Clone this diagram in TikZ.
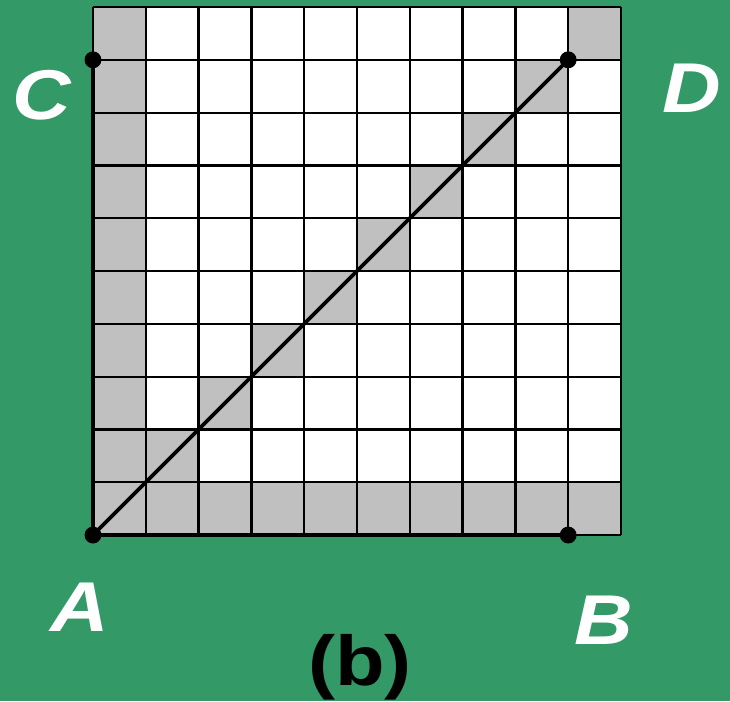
\documentclass[tikz,border=0pt]{standalone}
\usepackage{fontspec}
\setmainfont{Liberation Sans}[FakeStretch=1.15]
\definecolor{bggreen}{RGB}{51,153,102}
\definecolor{cellgrey}{RGB}{192,192,192}

\begin{document}
\begin{tikzpicture}[
  font=\bfseries\itshape,
  gridline/.style={line width=1.2pt, draw=black},
  edge/.style={line width=2.0pt, draw=black, line cap=round},
  corner/.style={circle, fill=black, inner sep=0pt, minimum size=0.32cm},
  pointlabel/.style={text=white, font=\fontsize{38}{40}\selectfont\bfseries\itshape, inner sep=0pt},
  caption/.style={text=black, font=\fontsize{38}{40}\selectfont\bfseries, inner sep=0pt}
]

% Page and background.
\fill[bggreen] (-1.761,-3.144) rectangle (12.064,10.133);
\useasboundingbox (-1.761,-3.144) rectangle (12.064,10.133);

\def\n{10}

% White cells, then the grey ones.
\fill[white] (0,0) rectangle (\n,\n);
\foreach \i in {0,...,9} {
  \fill[cellgrey] (\i,0) rectangle ++(1,1);
  \fill[cellgrey] (0,\i) rectangle ++(1,1);
  \fill[cellgrey] (\i,\i) rectangle ++(1,1);
}
\fill[cellgrey] (9,9) rectangle ++(1,1);

% Grid.
\foreach \i in {0,...,\n} {
  \draw[gridline] (\i,0) -- (\i,\n);
  \draw[gridline] (0,\i) -- (\n,\i);
}

% Corner points.
\node[corner] (A) at (0,0) {};
\node[corner] (B) at (9,0) {};
\node[corner] (C) at (0,9) {};
\node[corner] (D) at (9,9) {};

\draw[edge] (A.center) -- (B.center);
\draw[edge] (A.center) -- (C.center);
\draw[edge] (A.center) -- (D.center);

% Labels.
\node[pointlabel] (labelA) at (-0.25,-1.36) {A};
\node[pointlabel] (labelB) at (9.68,-1.61) {B};
\node[pointlabel] (labelC) at (-0.97,8.33) {C};
\node[pointlabel] (labelD) at (11.34,8.47) {D};
\node[caption] (capb) at (5.06,-2.50) {(b)};

\end{tikzpicture}
\end{document}
